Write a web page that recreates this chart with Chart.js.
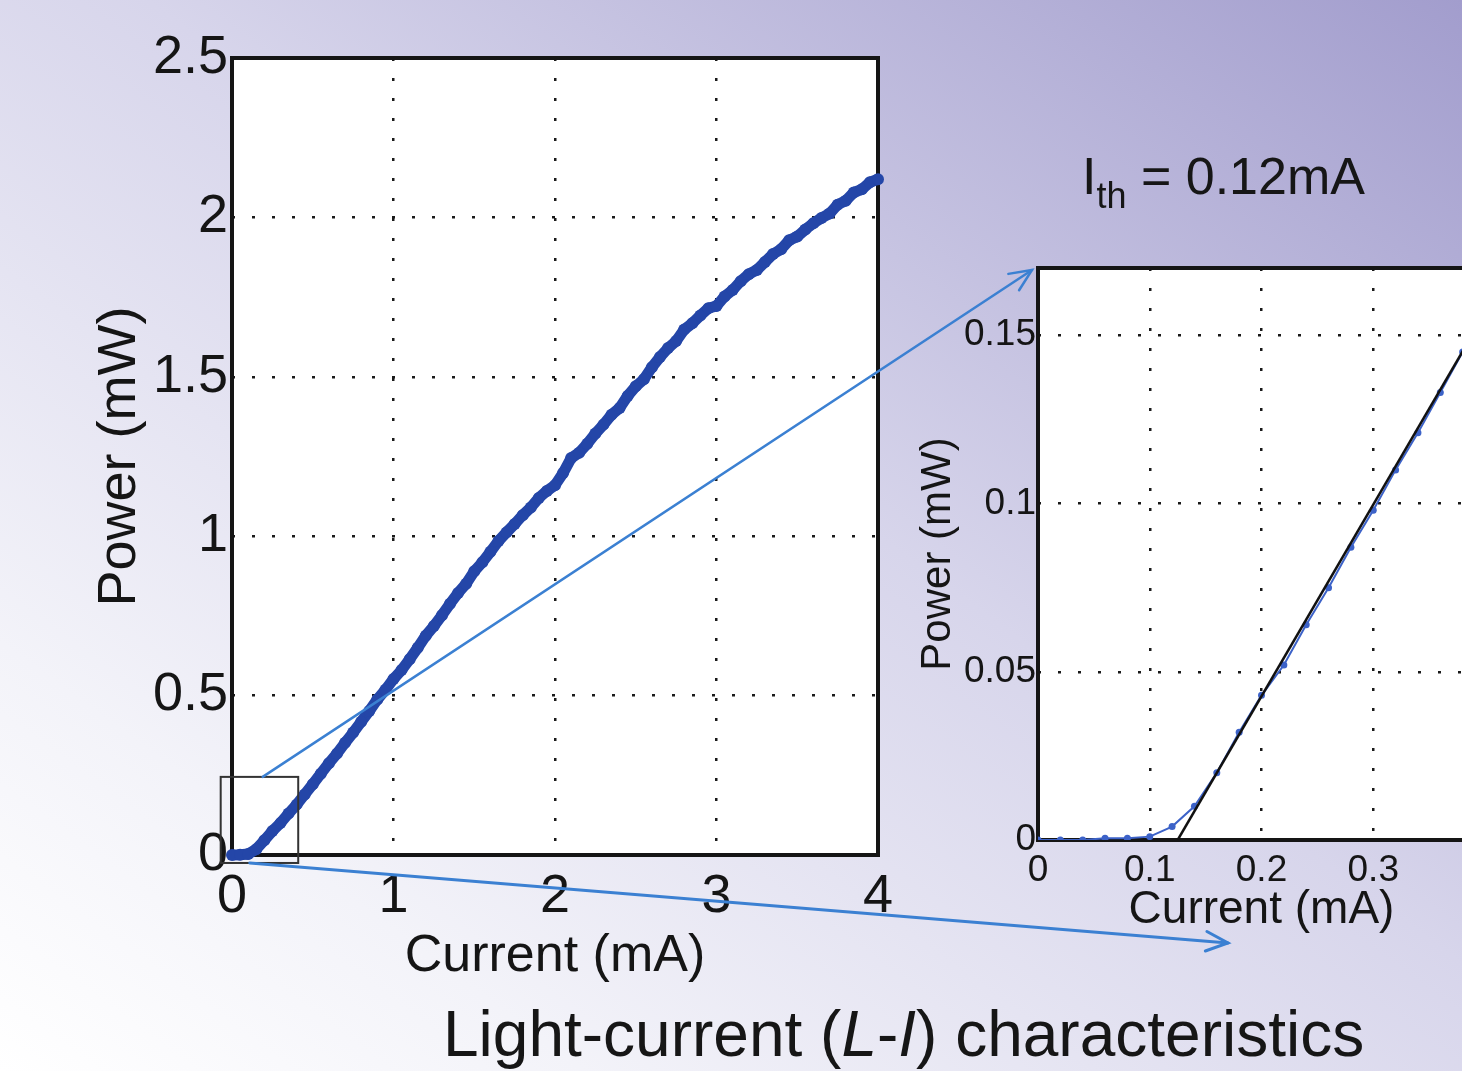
<!DOCTYPE html>
<html>
<head>
<meta charset="utf-8">
<script src="https://cdn.jsdelivr.net/npm/chart.js@4.4.1/dist/chart.umd.min.js"></script>
<style>
  html, body { margin:0; padding:0; width:1462px; height:1071px; overflow:hidden; }
  body {
    position:relative;
    font-family:'Liberation Sans', Arial, sans-serif;
    background:linear-gradient(to top right, #ffffff 0%, #f3f3f9 20%, #d7d5eb 55%, #a29dcd 100%);
  }
  canvas { position:absolute; }
  #main    { left:0;   top:0; }
  #inset   { left:900px; top:240px; }
  #arrows  { left:0; top:0; pointer-events:none; }
  .txt { position:absolute; color:#161616; white-space:nowrap; }
  #ith   { left:1082px; top:146px; font-size:52px; }
  #ith sub { font-size:36px; vertical-align:-14px; }
  #title { left:443px; top:997px; font-size:64px; }
</style>
</head>
<body>
<canvas id="main" width="900" height="1000"></canvas>
<canvas id="inset" width="600" height="720"></canvas>
<canvas id="arrows" width="1462" height="1071"></canvas>
<div class="txt" id="ith">I<sub>th</sub> = 0.12mA</div>
<div class="txt" id="title">Light-current (<i>L</i>-<i>I</i>) characteristics</div>

<script>
/* ── DATA ─────────────────────────────────────────────────── */
// main L-I curve, current in mA, power in mW
const mainCurrent = [
  0.00, 0.05, 0.10, 0.15, 0.20, 0.25, 0.30, 0.35, 0.40, 0.45,
  0.50, 0.55, 0.60, 0.65, 0.70, 0.75, 0.80, 0.85, 0.90, 0.95,
  1.00, 1.05, 1.10, 1.15, 1.20, 1.25, 1.30, 1.35, 1.40, 1.45,
  1.50, 1.55, 1.60, 1.65, 1.70, 1.75, 1.80, 1.85, 1.90, 1.95,
  2.00, 2.05, 2.10, 2.15, 2.20, 2.25, 2.30, 2.35, 2.40, 2.45,
  2.50, 2.55, 2.60, 2.65, 2.70, 2.75, 2.80, 2.85, 2.90, 2.95,
  3.00, 3.05, 3.10, 3.15, 3.20, 3.25, 3.30, 3.35, 3.40, 3.45,
  3.50, 3.55, 3.60, 3.65, 3.70, 3.75, 3.80, 3.85, 3.90, 3.95,
  4.00, 4.02
];
const mainPower = [
  0.000, 0.001, 0.003, 0.018, 0.046, 0.075, 0.100, 0.130, 0.158, 0.190,
  0.222, 0.255, 0.288, 0.318, 0.352, 0.384, 0.418, 0.452, 0.488, 0.518,
  0.552, 0.580, 0.614, 0.650, 0.688, 0.718, 0.752, 0.788, 0.822, 0.851,
  0.890, 0.918, 0.951, 0.985, 1.012, 1.038, 1.066, 1.090, 1.120, 1.142,
  1.160, 1.198, 1.245, 1.262, 1.290, 1.322, 1.350, 1.381, 1.402, 1.440,
  1.470, 1.492, 1.530, 1.562, 1.590, 1.612, 1.648, 1.668, 1.692, 1.715,
  1.722, 1.752, 1.772, 1.800, 1.822, 1.835, 1.860, 1.885, 1.900, 1.928,
  1.940, 1.962, 1.982, 1.998, 2.012, 2.040, 2.052, 2.078, 2.088, 2.110,
  2.120, 2.100
];

// zoomed inset near threshold
const insetCurrent = [0.00, 0.02, 0.04, 0.06, 0.08, 0.10, 0.12, 0.14, 0.16, 0.18, 0.20,
                      0.22, 0.24, 0.26, 0.28, 0.30, 0.32, 0.34, 0.36, 0.38, 0.40];
const insetPower   = [0.000, 0.000, 0.000, 0.0005, 0.0005, 0.001, 0.004, 0.010, 0.020, 0.032, 0.043,
                      0.052, 0.064, 0.075, 0.087, 0.098, 0.110, 0.121, 0.133, 0.145, 0.157];

// linear fit giving the threshold
const fitCurrent = [0.125, 0.42];
const fitPower   = [0.000, 0.168];

// tick labels
const mainXTicks  = [0, 1, 2, 3, 4];
const mainYTicks  = [0, 0.5, 1, 1.5, 2, 2.5];
const insetXTicks = [0, 0.1, 0.2, 0.3];
const insetYTicks = [0, 0.05, 0.1, 0.15];

// small region of the main plot that is blown up in the inset
const zoomBoxX = [-0.07, 0.41];
const zoomBoxY = [-0.025, 0.245];

/* ── COMMON ───────────────────────────────────────────────── */
const FONT = "'Liberation Sans', Arial, sans-serif";
const INK  = '#151515';

const pts = (xs, ys) => xs.map((x, i) => ({ x, y: ys[i] }));

const frame = {
  id: 'frame',
  beforeDraw(c) {
    const { ctx, chartArea: a } = c;
    ctx.save();
    ctx.fillStyle = '#ffffff';
    ctx.fillRect(a.left, a.top, a.width, a.height);
    ctx.restore();
  },
  beforeDatasetsDraw(c) {
    const { ctx, chartArea: a } = c;
    ctx.save();
    ctx.strokeStyle = INK;
    ctx.lineWidth = 4;
    ctx.strokeRect(a.left, a.top, a.width, a.height);
    ctx.restore();
  },
};

function axis(min, max, ticks, size, pad, title, titleSize, titlePad, fit) {
  return {
    type: 'linear', min, max,
    afterBuildTicks: s => { s.ticks = ticks.map(v => ({ value: v })); },
    afterFit: fit,
    grid:   { color: '#1a1a1a', lineWidth: 2.5, drawTicks: false },
    border: { display: false, dash: [3, 17] },
    ticks:  {
      color: INK, font: { family: FONT, size }, padding: pad, maxRotation: 0, autoSkip: false,
      callback: v => String(+v.toFixed(3)),
    },
    title:  { display: true, text: title, color: INK, font: { family: FONT, size: titleSize }, padding: titlePad },
  };
}

/* ── MAIN CHART ───────────────────────────────────────────── */
const zoomBox = {
  id: 'zoomBox',
  afterDraw(c) {
    const { ctx, scales: { x, y } } = c;
    const l = x.getPixelForValue(zoomBoxX[0]), r = x.getPixelForValue(zoomBoxX[1]);
    const t = y.getPixelForValue(zoomBoxY[1]), b = y.getPixelForValue(zoomBoxY[0]);
    ctx.save();
    ctx.strokeStyle = '#333';
    ctx.lineWidth = 2;
    ctx.strokeRect(l, t, r - l, b - t);
    ctx.restore();
  },
};

const mainChart = new Chart(document.getElementById('main'), {
  type: 'scatter',
  data: {
    datasets: [{
      data: pts(mainCurrent, mainPower),
      showLine: true,
      borderColor: '#2446a8',
      backgroundColor: '#2446a8',
      borderWidth: 11,
      pointRadius: 6,
      pointBorderWidth: 0,
      tension: 0,
      clip: 10,
    }],
  },
  options: {
    responsive: false, animation: false, events: [],
    layout: { padding: { top: 58, right: 22, left: 0, bottom: 0 } },
    plugins: { legend: { display: false }, tooltip: { enabled: false } },
    scales: {
      x: axis(0, 4, mainXTicks, 54, 10, 'Current (mA)', 52, { top: 0, bottom: 12 },
              s => { s.height = 145; s.paddingLeft = 0; s.paddingRight = 0; }),
      y: axis(0, 2.5, mainYTicks, 54, 4, 'Power (mW)', 54, { top: 88, bottom: 0 },
              s => { s.width = 232; s.paddingTop = 0; s.paddingBottom = 0; }),
    },
  },
  plugins: [frame, zoomBox],
});

/* ── INSET CHART ──────────────────────────────────────────── */
const insetChart = new Chart(document.getElementById('inset'), {
  type: 'scatter',
  data: {
    datasets: [
      {
        data: pts(fitCurrent, fitPower),
        showLine: true, borderColor: '#111', borderWidth: 2.5,
        pointRadius: 0, tension: 0, order: 0,
      },
      {
        data: pts(insetCurrent, insetPower),
        showLine: true, borderColor: '#3c62c8', backgroundColor: '#3c62c8',
        borderWidth: 2, pointRadius: 3.5, pointBorderWidth: 0, tension: 0, order: 1,
      },
    ],
  },
  options: {
    responsive: false, animation: false, events: [],
    layout: { padding: { top: 28, right: 15, left: 0, bottom: 0 } },
    plugins: { legend: { display: false }, tooltip: { enabled: false } },
    scales: {
      x: axis(0, 0.4, insetXTicks, 37, 9, 'Current (mA)', 46, { top: 0, bottom: 22 },
              s => { s.height = 120; s.paddingLeft = 0; s.paddingRight = 0; }),
      y: axis(0, 0.17, insetYTicks, 37, 2, 'Power (mW)', 42, { top: 13, bottom: 0 },
              s => { s.width = 138; s.paddingTop = 0; s.paddingBottom = 0; }),
    },
  },
  plugins: [frame],
});

/* ── ARROWS ───────────────────────────────────────────────── */
function arrow(ctx, x1, y1, x2, y2, w) {
  const a = Math.atan2(y2 - y1, x2 - x1), L = 24, s = 0.42;
  ctx.lineWidth = w;
  ctx.beginPath(); ctx.moveTo(x1, y1); ctx.lineTo(x2, y2); ctx.stroke();
  ctx.beginPath();
  ctx.moveTo(x2 - L * Math.cos(a - s), y2 - L * Math.sin(a - s));
  ctx.lineTo(x2, y2);
  ctx.lineTo(x2 - L * Math.cos(a + s), y2 - L * Math.sin(a + s));
  ctx.stroke();
}

(function drawArrows() {
  const ctx = document.getElementById('arrows').getContext('2d');
  const mx = mainChart.scales.x, my = mainChart.scales.y;
  const ia = insetChart.chartArea, ix = insetChart.scales.x;
  const offX = 900, offY = 240;
  ctx.strokeStyle = '#3b80d2';
  ctx.lineCap = 'round';
  arrow(ctx, mx.getPixelForValue(0.19), my.getPixelForValue(zoomBoxY[1]),
             offX + ia.left - 6, offY + ia.top + 2, 2.5);
  arrow(ctx, mx.getPixelForValue(0.11), my.getPixelForValue(zoomBoxY[0]),
             offX + ix.getPixelForValue(0.17), offY + ia.bottom + 103, 3);
})();
</script>
</body>
</html>
